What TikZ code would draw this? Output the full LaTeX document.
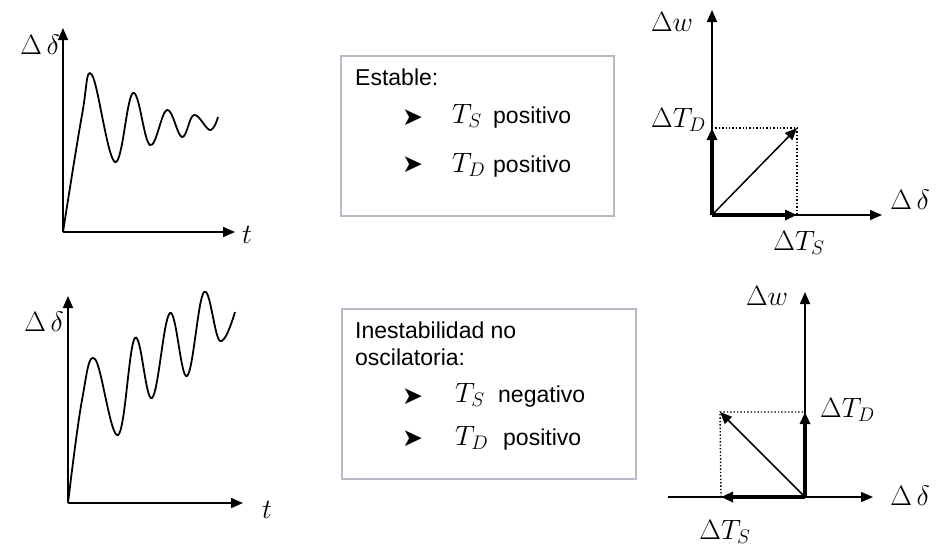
\RequirePackage{fix-cm}
\documentclass[tikz,border=0pt]{standalone}
\usepackage{fontspec}
\setmainfont{Liberation Sans}
\newfontfamily\dingfont{DejaVu Sans}
\usetikzlibrary{arrows.meta}
\definecolor{boxgray}{RGB}{185,185,200}

\begin{document}
\begin{tikzpicture}[
    x=1pt, y=-1pt,
    >={Triangle[length=12pt,width=10pt]},
    axis/.style={->, line width=1.6pt},
    phasor/.style={->, line width=3.5pt},
    resultant/.style={->, line width=1.5pt},
    guide/.style={dotted, line width=1.4pt},
    wave/.style={line width=1.8pt, smooth, tension=0.65},
    infobox/.style={draw=boxgray, line width=1.5pt, anchor=north west, inner sep=0pt},
    lbl/.style={font=\fontsize{28}{32}\selectfont, inner sep=1pt},
    txt/.style={font=\fontsize{23}{27}\selectfont, anchor=base west, inner sep=0pt},
    bul/.style={font=\dingfont\fontsize{25}{28}\selectfont, anchor=base west, inner sep=0pt}
]
    \useasboundingbox (0,0) rectangle (936,550);

    % Stable response
    \coordinate (o1) at (63,232);
    \coordinate (y1) at (63,28);
    \coordinate (x1) at (235,232);
    \draw[axis] (o1) -- (y1);
    \draw[axis] (o1) -- (x1);
    \node[lbl, anchor=east] (d1) at (61,45) {$\Delta\,\delta$};
    \node[lbl] (t1) at (247,235) {$t$};
    \draw[wave] plot coordinates {(63,232) (82,115) (92,75) (115,162) (133,93)
        (150,145) (167,110) (182,137) (194,115) (210,130) (218,117)};

    % Non oscillatory instability response
    \coordinate (o2) at (68,503);
    \coordinate (y2) at (68,296);
    \coordinate (x2) at (243,503);
    \draw[axis] (o2) -- (y2);
    \draw[axis] (o2) -- (x2);
    \node[lbl, anchor=east] (d2) at (65,322) {$\Delta\,\delta$};
    \node[lbl] (t2) at (267,510) {$t$};
    \draw[wave] plot coordinates {(68,503) (82,400) (95,359) (118,435) (135,338)
        (152,398) (170,313) (187,376) (204,292) (220,341) (235,312)};

    % Text boxes
    \node[infobox, minimum width=273pt, minimum height=160pt] (box1) at (340,55) {};
    \node[txt] (est) at (355,85) {Estable:};
    \node[bul] (b11) at (402,125) {➤};
    \node[lbl, anchor=base west, inner sep=0pt] (ts1) at (452,123) {$T_S$};
    \node[txt] (p11) at (493,123) {positivo};
    \node[bul] (b12) at (402,172) {➤};
    \node[lbl, anchor=base west, inner sep=0pt] (td1) at (452,172) {$T_D$};
    \node[txt] (p12) at (493,172) {positivo};

    \node[infobox, minimum width=294pt, minimum height=170pt] (box2) at (341,308) {};
    \node[txt] (ine) at (355,338) {Inestabilidad no};
    \node[txt] (osc) at (355,365) {oscilatoria:};
    \node[bul] (b21) at (402,404) {➤};
    \node[lbl, anchor=base west, inner sep=0pt] (ts2) at (455,402) {$T_S$};
    \node[txt] (n21) at (498,402) {negativo};
    \node[bul] (b22) at (402,446) {➤};
    \node[lbl, anchor=base west, inner sep=0pt] (td2) at (455,445) {$T_D$};
    \node[txt] (p22) at (503,445) {positivo};

    % Stable phasors
    \coordinate (o3) at (712,215);
    \coordinate (y3) at (712,10);
    \coordinate (x3) at (882,215);
    \coordinate (td3) at (712,128);
    \coordinate (ts3) at (797,215);
    \coordinate (r3) at (797,128);
    \draw[axis] (o3) -- (y3);
    \draw[axis] (o3) -- (x3);
    \draw[guide] (td3) -- (r3) -- (ts3);
    \draw[phasor] (o3) -- (td3);
    \draw[phasor] (o3) -- (ts3);
    \draw[resultant] (o3) -- (r3);
    \node[lbl] (w3) at (672,22) {$\Delta w$};
    \node[lbl, anchor=east] (ltd3) at (707,120) {$\Delta T_D$};
    \node[lbl] (lts3) at (799,243) {$\Delta T_S$};
    \node[lbl] (ld3) at (910,200) {$\Delta\,\delta$};

    % Unstable phasors
    \coordinate (o4) at (805,497);
    \coordinate (y4) at (805,292);
    \coordinate (x4) at (873,497);
    \coordinate (xl4) at (668,497);
    \coordinate (td4) at (805,412);
    \coordinate (ts4) at (721,497);
    \coordinate (r4) at (720,412);
    \draw[axis] (o4) -- (y4);
    \draw[axis] (xl4) -- (x4);
    \draw[guide] (ts4) -- (r4) -- (td4);
    \draw[phasor] (o4) -- (td4);
    \draw[phasor] (o4) -- (ts4);
    \draw[resultant] (o4) -- (r4);
    \node[lbl] (w4) at (767,296) {$\Delta w$};
    \node[lbl, anchor=west] (ltd4) at (819,410) {$\Delta T_D$};
    \node[lbl] (ld4) at (910,496) {$\Delta\,\delta$};
    \node[lbl] (lts4) at (725,532) {$\Delta T_S$};
\end{tikzpicture}
\end{document}
